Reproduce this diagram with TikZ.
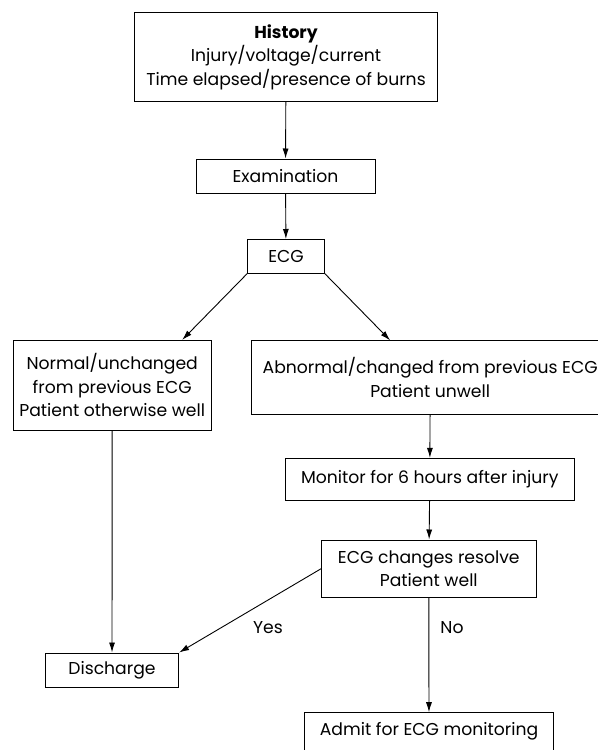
\documentclass[tikz,border=0pt]{standalone}
\usepackage{fontspec}
\setmainfont{Poppins}
\usetikzlibrary{arrows.meta}

\tikzset{
  box/.style={draw,line width=0.5pt,align=center,inner sep=0pt,font=\fontsize{8.6}{11.8}\selectfont},
  lbl/.style={inner sep=0pt,font=\fontsize{8.6}{11.8}\selectfont},
  link/.style={-{Latex[length=5pt,width=3pt]},line width=0.45pt}
}

\begin{document}
\begin{tikzpicture}[x=0.5pt,y=-0.5pt]
\useasboundingbox (0,0) rectangle (598,750);
\clip (0,0) rectangle (598,750);
\node[box,minimum width=151.3pt,minimum height=44.5pt] (history) at (286,57.2) {\textbf{History}\\Injury/voltage/current\\Time elapsed/presence of burns};
\node[box,minimum width=89.5pt,minimum height=17.2pt] (exam) at (285.5,176.2) {Examination};
\node[box,minimum width=38.3pt,minimum height=16.8pt] (ecg) at (286,256.3) {ECG};
\node[box,minimum width=98.8pt,minimum height=44.8pt] (normal) at (112.2,385.2) {Normal/unchanged\\from previous ECG\\Patient otherwise well};
\node[box,minimum width=178.8pt,minimum height=36.8pt] (abnormal) at (430.2,377.7) {Abnormal/changed from previous ECG\\Patient unwell};
\node[box,minimum width=144.2pt,minimum height=20.8pt] (monitor) at (429.8,479.2) {Monitor for 6 hours after injury};
\node[box,minimum width=107.2pt,minimum height=28.7pt] (resolve) at (428.8,568.7) {ECG changes resolve\\Patient well};
\node[box,minimum width=66.6pt,minimum height=17.2pt] (discharge) at (112,670.2) {Discharge};
\node[box,minimum width=124.4pt,minimum height=19pt] (admit) at (429,731.7) {Admit for ECG monitoring};
\node[lbl] (yes) at (268,628) {Yes};
\node[lbl] (no) at (452,628) {No};

\draw[link] (history) -- (exam);
\draw[link] (exam) -- (ecg);
\draw[link] (ecg.south west) -- ([xshift=35pt]normal.north);
\draw[link] (ecg.south east) -- ([xshift=-20pt]abnormal.north);
\draw[link] (normal) -- (discharge);
\draw[link] (abnormal) -- (monitor);
\draw[link] (monitor) -- (resolve);
\draw[link] (resolve.west) -- (discharge.north east);
\draw[link] (resolve) -- (admit);
\end{tikzpicture}
\end{document}
